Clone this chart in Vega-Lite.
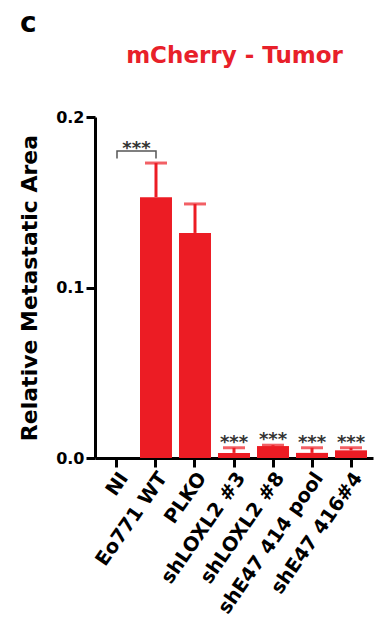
{
  "$schema": "https://vega.github.io/schema/vega-lite/v6.json",
  "width": 278,
  "height": 341,
  "autosize": "none",
  "padding": {"left": 95, "top": 117, "right": 11, "bottom": 164},
  "background": "white",
  "config": {
    "view": {"stroke": null},
    "font": "DejaVu Sans",
    "axis": {"labelFont": "DejaVu Sans", "titleFont": "DejaVu Sans", "labelFontWeight": "bold", "titleFontWeight": "bold", "labelColor": "black", "titleColor": "black", "domainColor": "black", "tickColor": "black", "grid": false}
  },
  "title": {"text": "c", "anchor": "start", "frame": "group", "dx": -75, "offset": 6, "fontSize": 28, "fontWeight": "bold", "font": "DejaVu Sans", "color": "black"},
  "datasets": {
    "bars": [
      {"group": "NI", "value": 0, "err": 0, "sig": ""},
      {"group": "Eo771 WT", "value": 0.153, "err": 0.173, "sig": ""},
      {"group": "PLKO", "value": 0.132, "err": 0.149, "sig": ""},
      {"group": "shLOXL2 #3", "value": 0.003, "err": 0.006, "sig": "***"},
      {"group": "shLOXL2 #8", "value": 0.007, "err": 0.0075, "sig": "***"},
      {"group": "shE47 414 pool", "value": 0.003, "err": 0.006, "sig": "***"},
      {"group": "shE47 416#4", "value": 0.0045, "err": 0.006, "sig": "***"}
    ],
    "bracket": [
      {"group": "NI", "y": 0.1757, "o": 1},
      {"group": "NI", "y": 0.18, "o": 2},
      {"group": "Eo771 WT", "y": 0.18, "o": 3},
      {"group": "Eo771 WT", "y": 0.1757, "o": 4}
    ],
    "bracketLabel": [
      {"group": "NI", "y": 0.18, "sig": "***"}
    ]
  },
  "resolve": {"axis": {"x": "independent"}},
  "layer": [
    {
      "data": {"name": "bars"},
      "mark": {"type": "bar", "color": "#EC1C24"},
      "encoding": {
        "x": {"field": "group", "type": "nominal", "sort": null,
          "scale": {"paddingInner": 0.18, "paddingOuter": 0.154},
          "axis": {"orient": "bottom", "title": null, "labelAngle": -55, "labelFontSize": 19.5, "labelPadding": 7, "labelOffset": 7, "tickSize": 9, "tickWidth": 3, "domainWidth": 3, "labelAlign": "right", "labelBaseline": "middle"}},
        "y": {"field": "value", "type": "quantitative",
          "scale": {"domain": [0, 0.2], "nice": false},
          "axis": {"title": "Relative Metastatic Area", "values": [0, 0.1, 0.2], "format": ".1f", "labelFontSize": 16, "titleFontSize": 22, "tickSize": 9, "tickWidth": 3, "domainWidth": 3, "labelPadding": 2, "titlePadding": 14}}
      }
    },
    {
      "data": {"name": "bars"},
      "mark": {"type": "rule", "color": "#EC1C24", "strokeWidth": 3},
      "encoding": {
        "x": {"field": "group", "type": "nominal", "sort": null, "axis": null},
        "y": {"field": "value", "type": "quantitative"},
        "y2": {"field": "err"}
      }
    },
    {
      "data": {"name": "bars"},
      "transform": [{"filter": "datum.err > 0"}],
      "mark": {"type": "tick", "color": "#EC1C24", "thickness": 3, "size": 22},
      "encoding": {
        "x": {"field": "group", "type": "nominal", "sort": null, "axis": null},
        "y": {"field": "err", "type": "quantitative"}
      }
    },
    {
      "data": {"name": "bars"},
      "mark": {"type": "text", "fontSize": 18, "fontWeight": "bold", "color": "#333333", "baseline": "alphabetic", "align": "center"},
      "encoding": {
        "x": {"field": "group", "type": "nominal", "sort": null, "axis": null},
        "y": {"field": "err", "type": "quantitative"},
        "text": {"field": "sig"}
      }
    },
    {
      "data": {"name": "bracket"},
      "mark": {"type": "line", "color": "#555555", "strokeWidth": 1.5},
      "encoding": {
        "x": {"field": "group", "type": "nominal", "sort": null,
          "axis": {"orient": "top", "title": "mCherry - Tumor", "titleColor": "#E8202A", "titleFontSize": 23, "titlePadding": 50, "labels": false, "ticks": false, "domain": false}},
        "y": {"field": "y", "type": "quantitative"},
        "order": {"field": "o"}
      }
    },
    {
      "data": {"name": "bracketLabel"},
      "mark": {"type": "text", "fontSize": 18, "fontWeight": "bold", "color": "#333333", "baseline": "alphabetic", "align": "center", "dx": 19.5, "dy": 3},
      "encoding": {
        "x": {"field": "group", "type": "nominal", "sort": null, "axis": null},
        "y": {"field": "y", "type": "quantitative"},
        "text": {"field": "sig"}
      }
    }
  ]
}
